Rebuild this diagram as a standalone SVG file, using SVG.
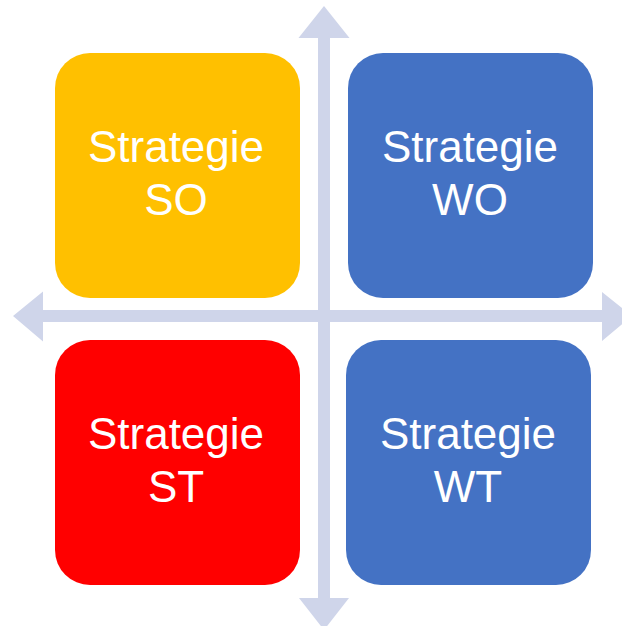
<svg xmlns="http://www.w3.org/2000/svg" width="622" height="626" viewBox="0 0 622 626">
<style>
.ax{fill:#CFD5EA}
.t{font-family:"Liberation Sans",Arial,sans-serif;font-size:44px;fill:#FFFFFF;text-anchor:middle}
</style>
<rect width="622" height="626" fill="#FFFFFF"/>
<g id="connectors">
<path class="ax" d="M324,6 L349.5,38 L330,38 L330,598 L349,598 L324,630 L299,598 L318,598 L318,38 L298.5,38 Z"/>
<path class="ax" d="M13,316 L43,291.5 L43,310 L602,310 L602,292 L632,316 L602,341 L602,322 L43,322 L43,341.5 Z"/>
</g>
<g id="SO">
<rect x="55" y="53" width="245" height="245" rx="35" fill="#FFC000"/>
<text class="t" x="176" y="162">Strategie</text>
<text class="t" x="176" y="215">SO</text>
</g>
<g id="WO">
<rect x="348" y="53" width="245" height="245" rx="35" fill="#4472C4"/>
<text class="t" x="470" y="162">Strategie</text>
<text class="t" x="470" y="215">WO</text>
</g>
<g id="ST">
<rect x="55" y="340" width="245" height="245" rx="35" fill="#FF0000"/>
<text class="t" x="176" y="449">Strategie</text>
<text class="t" x="176" y="502">ST</text>
</g>
<g id="WT">
<rect x="346" y="340" width="245" height="245" rx="35" fill="#4472C4"/>
<text class="t" x="468" y="449">Strategie</text>
<text class="t" x="468" y="502">WT</text>
</g>
</svg>
